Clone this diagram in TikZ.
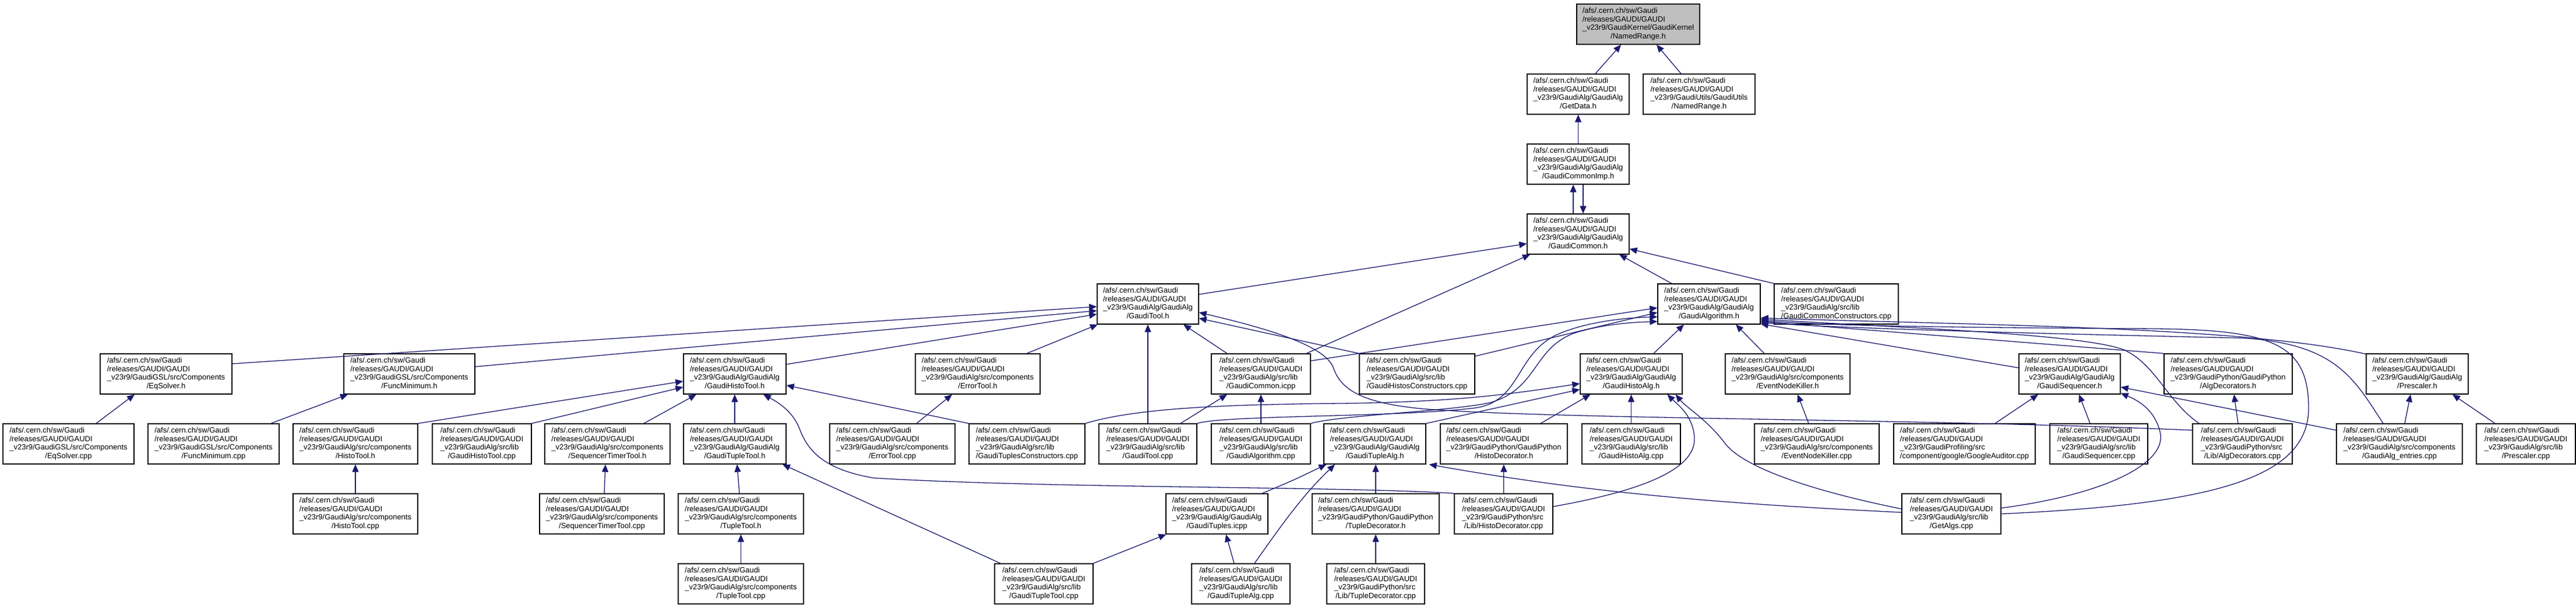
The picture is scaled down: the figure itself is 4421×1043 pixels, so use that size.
\documentclass[tikz,border=0pt]{standalone}
\usepackage{fontspec}
\setmainfont{Liberation Sans}
\usetikzlibrary{arrows.meta,calc}
\definecolor{edgeblue}{HTML}{191970}
\definecolor{topgray}{HTML}{BFBFBF}
\newcommand{\lab}[2]{\begin{tabular}{@{}l@{}}/afs/.cern.ch/sw/Gaudi\\/releases/GAUDI/GAUDI\\#1\\\multicolumn{1}{@{}c@{}}{#2}\end{tabular}}
\newcommand{\pGA}{\_v23r9/GaudiAlg/GaudiAlg}
\newcommand{\pSL}{\_v23r9/GaudiAlg/src/lib}
\newcommand{\pSC}{\_v23r9/GaudiAlg/src/components}
\newcommand{\pGSL}{\_v23r9/GaudiGSL/src/Components}
\newcommand{\pPP}{\_v23r9/GaudiPython/GaudiPython}
\newcommand{\pPS}{\_v23r9/GaudiPython/src}
\newcommand{\fnode}[6][]{%
  \pgfmathsetmacro{\fnx}{(#3+#4)/2}%
  \pgfmathsetmacro{\fny}{41.5+120*#5}%
  \pgfmathsetmacro{\fnw}{#4-#3}%
  \node[fbox,#1,minimum width=\fnw pt] (#2) at (\fnx,\fny) {#6};}
\tikzset{
  fbox/.style={draw=black, fill=white, line width=1.3pt, rectangle, inner sep=0pt,
    minimum height=69pt, font=\fontsize{13}{14.8}\selectfont, text=black},
  topbox/.style={fill=topgray},
  edge/.style={draw=edgeblue, line width=1.3pt, -{Triangle[length=13pt,width=11pt]}}
}
\begin{document}
\begin{tikzpicture}[x=1pt,y=-1pt]
\useasboundingbox (0,0) rectangle (4421,1043);
% row 0-4
\fnode[topbox]{nr}{2706}{2917}{0}{\lab{\_v23r9/GaudiKernel/GaudiKernel}{/NamedRange.h}}
\fnode{getdata}{2621}{2796}{1}{\lab{\pGA}{/GetData.h}}
\fnode{unr}{2820}{3012}{1}{\lab{\_v23r9/GaudiUtils/GaudiUtils}{/NamedRange.h}}
\fnode{commonimp}{2621}{2796}{2}{\lab{\pGA}{/GaudiCommonImp.h}}
\fnode{common}{2621}{2796}{3}{\lab{\pGA}{/GaudiCommon.h}}
\fnode{tool}{1883}{2057}{4}{\lab{\pGA}{/GaudiTool.h}}
\fnode{algo}{2845}{3021}{4}{\lab{\pGA}{/GaudiAlgorithm.h}}
\fnode{commoncons}{3045}{3258}{4}{\lab{\pSL}{/GaudiCommonConstructors.cpp}}
% row 5
\fnode{eqh}{172}{398}{5}{\lab{\pGSL}{/EqSolver.h}}
\fnode{funch}{590}{815}{5}{\lab{\pGSL}{/FuncMinimum.h}}
\fnode{ghtoolh}{1173}{1349}{5}{\lab{\pGA}{/GaudiHistoTool.h}}
\fnode{errorh}{1571}{1785}{5}{\lab{\pSC}{/ErrorTool.h}}
\fnode{commonicpp}{2079}{2249}{5}{\lab{\pSL}{/GaudiCommon.icpp}}
\fnode{histoscons}{2333}{2531}{5}{\lab{\pSL}{/GaudiHistosConstructors.cpp}}
\fnode{histoalgh}{2712}{2887}{5}{\lab{\pGA}{/GaudiHistoAlg.h}}
\fnode{enkh}{2961}{3175}{5}{\lab{\pSC}{/EventNodeKiller.h}}
\fnode{seqh}{3465}{3639}{5}{\lab{\pGA}{/GaudiSequencer.h}}
\fnode{algdech}{3714}{3934}{5}{\lab{\pPP}{/AlgDecorators.h}}
\fnode{prescalerh}{4061}{4236}{5}{\lab{\pGA}{/Prescaler.h}}
% row 6
\fnode{eqcpp}{5}{230}{6}{\lab{\pGSL}{/EqSolver.cpp}}
\fnode{funccpp}{254}{479}{6}{\lab{\pGSL}{/FuncMinimum.cpp}}
\fnode{histotoolh}{503}{717}{6}{\lab{\pSC}{/HistoTool.h}}
\fnode{ghtcpp}{742}{912}{6}{\lab{\pSL}{/GaudiHistoTool.cpp}}
\fnode{sttoolh}{935}{1150}{6}{\lab{\pSC}{/SequencerTimerTool.h}}
\fnode{gtuptoolh}{1173}{1349}{6}{\lab{\pGA}{/GaudiTupleTool.h}}
\fnode{errorcpp}{1424}{1639}{6}{\lab{\pSC}{/ErrorTool.cpp}}
\fnode{tupcons}{1663}{1862}{6}{\lab{\pSL}{/GaudiTuplesConstructors.cpp}}
\fnode{toolcpp}{1886}{2054}{6}{\lab{\pSL}{/GaudiTool.cpp}}
\fnode{algocpp}{2079}{2249}{6}{\lab{\pSL}{/GaudiAlgorithm.cpp}}
\fnode{tuplealgh}{2272}{2447}{6}{\lab{\pGA}{/GaudiTupleAlg.h}}
\fnode{histodech}{2472}{2690}{6}{\lab{\pPP}{/HistoDecorator.h}}
\fnode{histoalgcpp}{2715}{2884}{6}{\lab{\pSL}{/GaudiHistoAlg.cpp}}
\fnode{enkcpp}{3011}{3225}{6}{\lab{\pSC}{/EventNodeKiller.cpp}}
\fnode{google}{3250}{3493}{6}{\lab{\_v23r9/GaudiProfiling/src}{/component/google/GoogleAuditor.cpp}}
\fnode{seqcpp}{3518}{3686}{6}{\lab{\pSL}{/GaudiSequencer.cpp}}
\fnode{algdeccpp}{3763}{3934}{6}{\lab{\pPS}{/Lib/AlgDecorators.cpp}}
\fnode{entries}{4010}{4226}{6}{\lab{\pSC}{/GaudiAlg\_entries.cpp}}
\fnode{prescalercpp}{4250}{4420}{6}{\lab{\pSL}{/Prescaler.cpp}}
% row 7
\fnode{histotoolcpp}{503}{717}{7}{\lab{\pSC}{/HistoTool.cpp}}
\fnode{sttoolcpp}{926}{1140}{7}{\lab{\pSC}{/SequencerTimerTool.cpp}}
\fnode{tupletoolh}{1164}{1379}{7}{\lab{\pSC}{/TupleTool.h}}
\fnode{tuplesicpp}{2001}{2176}{7}{\lab{\pGA}{/GaudiTuples.icpp}}
\fnode{tupdech}{2252}{2470}{7}{\lab{\pPP}{/TupleDecorator.h}}
\fnode{histodeccpp}{2496}{2665}{7}{\lab{\pPS}{/Lib/HistoDecorator.cpp}}
\fnode{getalgs}{3264}{3434}{7}{\lab{\pSL}{/GetAlgs.cpp}}
% row 8
\fnode{tupletoolcpp}{1164}{1379}{8}{\lab{\pSC}{/TupleTool.cpp}}
\fnode{gttcpp}{1707}{1876}{8}{\lab{\pSL}{/GaudiTupleTool.cpp}}
\fnode{gtacpp}{2045}{2214}{8}{\lab{\pSL}{/GaudiTupleAlg.cpp}}
\fnode{tupdeccpp}{2277}{2445}{8}{\lab{\pPS}{/Lib/TupleDecorator.cpp}}
% edges
\draw[edge] ($(getdata.north)+(29.5,0)$) -- ($(nr.south)+(-29.5,0)$);
\draw[edge] ($(unr.north)+(-31,0)$) -- ($(nr.south)+(31.5,0)$);
\draw[edge] (commonimp) -- (getdata);
\draw[edge] ($(common.north)+(-8.5,0)$) -- ($(commonimp.south)+(-8.5,0)$);
\draw[edge] ($(commonimp.south)+(8.5,0)$) -- ($(common.north)+(8.5,0)$);
\draw[edge] ($(tool.east)+(0,-16.5)$) -- ($(common.west)+(0,16.5)$);
\draw[edge] ($(algo.north)+(-64,0)$) -- ($(common.south)+(70.5,0)$);
\draw[edge] (commoncons.north west) -- ($(common.east)+(0,25.5)$);
\draw[edge] ($(commonicpp.north)+(78,0)$) -- ($(common.south)+(-82.5,0)$);
\draw[edge] ($(eqh.east)+(0,-17.5)$) -- ($(tool.west)+(0,4.5)$);
\draw[edge] ($(funch.east)+(0,-12.5)$) -- ($(tool.west)+(0,11.5)$);
\draw[edge] ($(ghtoolh.east)+(0,-16.5)$) -- ($(tool.west)+(0,17.5)$);
\draw[edge] ($(errorh.north)+(84,0)$) -- ($(tool.south)+(-86,0)$);
\draw[edge] ($(commonicpp.north)+(-58,0)$) -- ($(tool.south)+(61,0)$);
\draw[edge] (toolcpp) -- (tool);
\draw[edge] (histoscons.north west) -- ($(tool.east)+(0,24.5)$);
\draw[edge] ($(algdeccpp.west)+(0,-23.5)$) .. controls (3300,718) and (2700,720) .. (2450,702) .. controls (2330,692) and (2300,665) .. (2288,630) .. controls (2272,590) and (2160,560) .. ($(tool.east)+(0,14.5)$);
\draw[edge] ($(commonicpp.east)+(0,-22.5)$) -- ($(algo.west)+(0,6.5)$);
\draw[edge] ($(histoscons.east)+(0,-30.5)$) -- ($(algo.west)+(0,14.5)$);
\draw[edge] (toolcpp.north east) .. controls (2100,712) and (2400,716) .. (2530,700) .. controls (2610,690) and (2600,610) .. (2670,575) .. controls (2720,552) and (2790,545) .. ($(algo.west)+(0,22)$);
\draw[edge] (algocpp.north east) .. controls (2300,712) and (2500,705) .. (2560,690) .. controls (2640,665) and (2630,600) .. (2700,572) .. controls (2750,556) and (2800,553) .. ($(algo.west)+(0,30)$);
\draw[edge] ($(histoalgh.north)+(38.5,0)$) -- ($(algo.south)+(-43,0)$);
\draw[edge] ($(enkh.north)+(-40,0)$) -- ($(algo.south)+(46,0)$);
\draw[edge] ($(seqh.west)+(0,-10.5)$) -- ($(algo.south east)+(0,-1)$);
\draw[edge] (algdech.north west) -- ($(algo.east)+(0,30)$);
\draw[edge] ($(prescalerh.north west)+(0,1)$) .. controls (3850,560) and (3400,558) .. ($(algo.east)+(0,24)$);
\draw[edge] ($(entries.north)+(-28,0)$) .. controls (4040,650) and (4010,590) .. (3850,580) .. controls (3500,572) and (3200,565) .. ($(algo.east)+(0,32)$);
\draw[edge] (getalgs.east) .. controls (3800,865) and (3962,820) .. (3962,700) .. controls (3962,590) and (3900,566) .. (3700,564) .. controls (3400,562) and (3150,560) .. ($(algo.east)+(0,28)$);
\draw[edge] ($(algdeccpp.north west)+(12,0)$) .. controls (3720,690) and (3700,625) .. (3645,600) .. controls (3570,572) and (3250,562) .. ($(algo.east)+(0,26)$);
\draw[edge] ($(entries.west)+(0,-23.5)$) -- ($(seqh.east)+(0,22.5)$);
\draw[edge] ($(getalgs.east)+(0,-10)$) .. controls (3600,850) and (3715,800) .. (3708,745) .. controls (3700,705) and (3672,688) .. ($(seqh.east)+(0,33)$);
\draw[edge] ($(google.north)+(52.5,0)$) -- ($(seqh.south)+(-54,0)$);
\draw[edge] ($(seqcpp.north)+(-15,0)$) -- ($(seqh.south)+(16,0)$);
\draw[edge] ($(enkcpp.north)+(-14,0)$) -- ($(enkh.south)+(17,0)$);
\draw[edge] ($(algdeccpp.north)+(-7.5,0)$) -- ($(algdech.south)+(10,0)$);
\draw[edge] ($(entries.north)+(9,0)$) -- ($(prescalerh.south)+(-11.5,0)$);
\draw[edge] ($(prescalercpp.north)+(-53,0)$) -- ($(prescalerh.south)+(60.5,0)$);
\draw[edge] (histoalgcpp) -- (histoalgh);
\draw[edge] ($(histodech.north)+(63,0)$) -- ($(histoalgh.south)+(-70,0)$);
\draw[edge] (tuplealgh.north east) -- ($(histoalgh.west)+(0,26.5)$);
\draw[edge] (tupcons.north east) .. controls (1950,700) and (2100,694) .. (2300,692) .. controls (2500,690) and (2600,675) .. ($(histoalgh.west)+(0,16.5)$);
\draw[edge] ($(histodeccpp.east)+(0,-12.5)$) .. controls (2800,845) and (2912,810) .. (2908,750) .. controls (2905,712) and (2880,695) .. ($(histoalgh.south)+(62,0)$);
\draw[edge] ($(getalgs.west)+(0,-8.5)$) .. controls (3100,840) and (2990,800) .. (2960,760) .. controls (2930,720) and (2895,700) .. ($(histoalgh.south east)+(-12,0)$);
\draw[edge] (tupdech.north) -- ($(tuplealgh.south)+(1.5,0)$);
\draw[edge] (tupdeccpp) -- (tupdech);
\draw[edge] (histodeccpp) -- (histodech);
\draw[edge] ($(tuplesicpp.north)+(77.5,0)$) .. controls (2215,826) .. ($(tuplealgh.south west)+(5,0)$);
\draw[edge] ($(gtacpp.north)+(23.5,0)$) .. controls (2200,900) and (2235,850) .. ($(tuplealgh.south)+(-68.5,0)$);
\draw[edge] ($(getalgs.west)+(0,-2.5)$) .. controls (3000,866) and (2750,850) .. ($(tuplealgh.south east)+(5,0)$);
\draw[edge] (gttcpp.north east) -- ($(tuplesicpp.south west)+(1,0)$);
\draw[edge] ($(gtacpp.north)+(-11.5,0)$) -- ($(tuplesicpp.south)+(15.5,0)$);
\draw[edge] ($(gttcpp.north)+(-74.5,0)$) -- ($(gtuptoolh.south)+(82,0)$);
\draw[edge] (histodeccpp.north west) .. controls (2300,834) and (1800,838) .. (1500,820) .. controls (1410,805) and (1385,770) .. (1372,735) .. controls (1360,705) and (1335,690) .. ($(ghtoolh.south)+(49,0)$);
\draw[edge] (histotoolh.north east) -- ($(ghtoolh.west)+(0,12.5)$);
\draw[edge] (ghtcpp.north east) -- ($(ghtoolh.west)+(0,22.5)$);
\draw[edge] ($(sttoolh.north)+(62.5,0)$) -- ($(ghtoolh.south)+(-66,0)$);
\draw[edge] (gtuptoolh) -- (ghtoolh);
\draw[edge] (tupcons.north west) -- ($(ghtoolh.east)+(0,19.5)$);
\draw[edge] (histotoolcpp) -- (histotoolh);
\draw[edge] ($(sttoolcpp.north)+(4,0)$) -- ($(sttoolh.south)+(-3.5,0)$);
\draw[edge] ($(tupletoolh.north)+(-2.5,0)$) -- ($(gtuptoolh.south)+(4,0)$);
\draw[edge] (tupletoolcpp) -- (tupletoolh);
\draw[edge] ($(eqcpp.north)+(47.5,0)$) -- ($(eqh.south)+(-54,0)$);
\draw[edge] ($(funccpp.north)+(98.5,0)$) -- ($(funch.south)+(-105.5,0)$);
\draw[edge] ($(errorcpp.north)+(41.5,0)$) -- ($(errorh.south)+(-44,0)$);
\draw[edge] ($(toolcpp.north)+(56,0)$) -- ($(commonicpp.south)+(-58,0)$);
\draw[edge] (algocpp) -- (commonicpp);
\end{tikzpicture}
\end{document}
